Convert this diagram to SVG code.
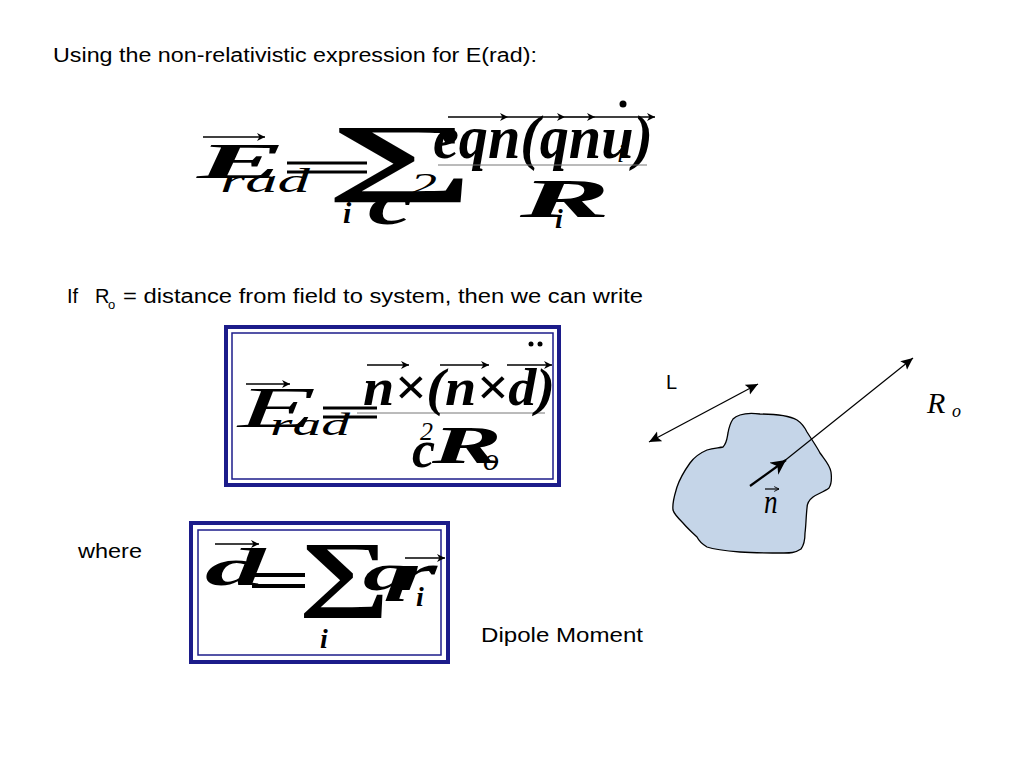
<svg xmlns="http://www.w3.org/2000/svg" width="1024" height="768" viewBox="0 0 1024 768">
<defs>
<marker id="ahs" viewBox="0 0 10 10" refX="10" refY="5" markerWidth="12" markerHeight="8" markerUnits="userSpaceOnUse" orient="auto">
<path d="M0,0 L10,5 L0,10 L3,5 Z" fill="#000"/>
</marker>
<marker id="ahb" viewBox="0 0 10 10" refX="10" refY="5" markerWidth="12" markerHeight="12" markerUnits="userSpaceOnUse" orient="auto-start-reverse">
<path d="M0,0.5 L10,5 L0,9.5 L2,5 Z" fill="#000"/>
</marker>
<marker id="ahn" viewBox="0 0 10 10" refX="10" refY="5" markerWidth="15" markerHeight="15" markerUnits="userSpaceOnUse" orient="auto">
<path d="M0,0 L10,5 L0,10 L3,5 Z" fill="#000"/>
</marker>
<marker id="ahv" viewBox="0 0 10 10" refX="10" refY="5" markerWidth="6" markerHeight="6" markerUnits="userSpaceOnUse" orient="auto">
<path d="M2,1 L10,5 L2,9" fill="none" stroke="#000" stroke-width="1.5"/>
</marker>
</defs>
<style>
.t{font-family:"Liberation Sans",Arial,sans-serif;font-size:20px;fill:#000}
.m{font-family:"Liberation Serif","Times New Roman",serif;fill:#000}
.bi{font-style:italic;font-weight:bold}
.it{font-style:italic}
.b{font-weight:bold}
.bar{stroke:#000;stroke-width:3}
.frac{stroke:#777;stroke-width:1}
.va{stroke:#000;stroke-width:1.6;fill:none;marker-end:url(#ahs)}
.box1{fill:#fff;stroke:#1c1c8a;stroke-width:4}
.box2{fill:none;stroke:#1c1c8a;stroke-width:1.5}
.conn{stroke:#000;stroke-width:1.3;fill:none}
</style>
<rect width="1024" height="768" fill="#fff"/>

<g id="texts">
<text class="t" x="53" y="62" textLength="484" lengthAdjust="spacingAndGlyphs">Using the non-relativistic expression for E(rad):</text>
<text class="t" x="67" y="303">If</text>
<text class="t" x="95" y="303">R</text>
<text class="t" x="108" y="309" style="font-size:13px">o</text>
<text class="t" x="123" y="303" textLength="520" lengthAdjust="spacingAndGlyphs">= distance from field to system, then we can write</text>
<text class="t" x="78" y="558" textLength="64" lengthAdjust="spacingAndGlyphs">where</text>
<text class="t" x="481" y="642" textLength="162" lengthAdjust="spacingAndGlyphs">Dipole Moment</text>
</g>

<g id="eq1">
<line class="va" x1="203" y1="137" x2="265" y2="137"/>
<text class="m bi" x="197" y="178" font-size="50" textLength="88" lengthAdjust="spacingAndGlyphs">E</text>
<text class="m it" x="220" y="192" font-size="34" textLength="90" lengthAdjust="spacingAndGlyphs">rad</text>
<line class="bar" x1="287" y1="163" x2="367" y2="163"/>
<line class="bar" x1="287" y1="172" x2="367" y2="172"/>
<text class="m b" x="325" y="184" font-size="86" textLength="150" lengthAdjust="spacingAndGlyphs">∑</text>
<text class="m bi" x="343" y="223" font-size="30">i</text>
<text class="m bi" x="368" y="224" font-size="62" textLength="45" lengthAdjust="spacingAndGlyphs">c</text>
<text class="m it" x="410" y="195" font-size="32" textLength="27" lengthAdjust="spacingAndGlyphs">2</text>
<line class="va" x1="448" y1="117" x2="508" y2="117"/>
<line class="va" x1="508" y1="117" x2="565" y2="117"/>
<line class="va" x1="565" y1="117" x2="595" y2="117"/>
<line class="va" x1="595" y1="117" x2="655" y2="117"/>
<circle cx="623" cy="104" r="3.5" fill="#000"/>
<text class="m bi" x="433" y="158" font-size="62" textLength="220" lengthAdjust="spacingAndGlyphs">eqn(qnu)</text>
<text class="m it" x="617" y="162" font-size="26">i</text>
<line class="frac" x1="438" y1="165" x2="647" y2="165"/>
<text class="m bi" x="520" y="217" font-size="54" textLength="90" lengthAdjust="spacingAndGlyphs">R</text>
<text class="m bi" x="555" y="228" font-size="28">i</text>
</g>

<g id="eq2">
<rect class="box1" x="226" y="327" width="333" height="158"/>
<rect class="box2" x="232" y="333" width="321" height="146"/>
<line class="va" x1="246" y1="384" x2="290" y2="384"/>
<text class="m it" x="238" y="427" font-size="58" textLength="78" lengthAdjust="spacingAndGlyphs">E</text>
<text class="m it" x="270" y="435" font-size="32" textLength="80" lengthAdjust="spacingAndGlyphs">rad</text>
<line class="bar" x1="323" y1="408" x2="377" y2="408"/>
<line class="bar" x1="323" y1="417" x2="377" y2="417"/>
<line class="frac" x1="357" y1="413" x2="545" y2="413"/>
<line class="va" x1="367" y1="365" x2="409" y2="365"/>
<line class="va" x1="440" y1="365" x2="489" y2="365"/>
<line class="va" x1="507" y1="365" x2="552" y2="365"/>
<circle cx="531" cy="344" r="2.5" fill="#000"/>
<circle cx="540" cy="344" r="2.5" fill="#000"/>
<text class="m bi" x="363" y="405" font-size="52" textLength="192" lengthAdjust="spacingAndGlyphs">n×(n×d)</text>
<text class="m it" x="420" y="440" font-size="26">2</text>
<text class="m bi" x="412" y="467" font-size="52">c</text>
<text class="m bi" x="432" y="463" font-size="52" textLength="70" lengthAdjust="spacingAndGlyphs">R</text>
<text class="m it" x="483" y="470" font-size="32">o</text>
</g>

<g id="eq3">
<rect class="box1" x="191" y="523" width="257" height="139"/>
<rect class="box2" x="198" y="530" width="243" height="125"/>
<line class="va" x1="215" y1="544" x2="259" y2="544"/>
<text class="m bi" x="205" y="585" font-size="52" textLength="60" lengthAdjust="spacingAndGlyphs">d</text>
<line class="bar" x1="252" y1="575" x2="305" y2="575" style="stroke-width:4"/>
<line class="bar" x1="252" y1="586" x2="305" y2="586" style="stroke-width:4"/>
<text class="m b" x="298" y="600" font-size="84" textLength="92" lengthAdjust="spacingAndGlyphs">∑</text>
<text class="m bi" x="363" y="590" font-size="52" textLength="50" lengthAdjust="spacingAndGlyphs">q</text>
<text class="m bi" x="392" y="590" font-size="52" textLength="45" lengthAdjust="spacingAndGlyphs">r</text>
<line class="va" x1="405" y1="558" x2="445" y2="558"/>
<text class="m bi" x="416" y="606" font-size="28">i</text>
<text class="m bi" x="320" y="648" font-size="28">i</text>
</g>

<g id="blob">
<path d="M740,415 C746,413 752,413 760,414 C775,414 790,416 797,420 C803,424 805,428 807,432 C812,440 817,447 820,453 C825,460 830,465 831,472 C832,480 831,485 829,488 C824,492 817,494 813,497 C809,500 807,504 807,508 C806,517 806,526 805,533 C805,540 804,545 801,549 C795,553 790,553 784,553 C770,553 755,553 740,552 C728,551 716,550 707,547 C702,544 699,541 697,537 C692,532 687,528 683,523 C678,518 674,514 673,510 C672,502 675,494 677,487 C680,478 685,470 690,463 C695,456 700,453 707,450 C713,448 718,448 723,447 C727,443 727,438 728,433 C729,427 731,422 733,419 C735,417 737,416 740,415 Z" fill="#c5d5e8" stroke="#000" stroke-width="1.3"/>
</g>

<g id="labels">
<text class="t" x="666" y="389">L</text>
<text class="m it" x="927" y="413" font-size="30">R</text>
<text class="m it" x="952" y="417" font-size="18">o</text>
<text class="m it" x="764" y="513" font-size="34" transform="translate(764,513) scale(0.8,1) translate(-764,-513)">n</text>
<line x1="765" y1="489" x2="779" y2="489" stroke="#000" stroke-width="1.2" marker-end="url(#ahv)"/>
</g>

<g id="connectors">
<line class="conn" x1="649" y1="442" x2="758" y2="384" marker-start="url(#ahb)" marker-end="url(#ahb)"/>
<line class="conn" x1="783" y1="462" x2="913" y2="358" marker-end="url(#ahb)"/>
<line x1="750" y1="486" x2="786" y2="460" stroke="#000" stroke-width="2.2" marker-end="url(#ahn)"/>
</g>
</svg>
